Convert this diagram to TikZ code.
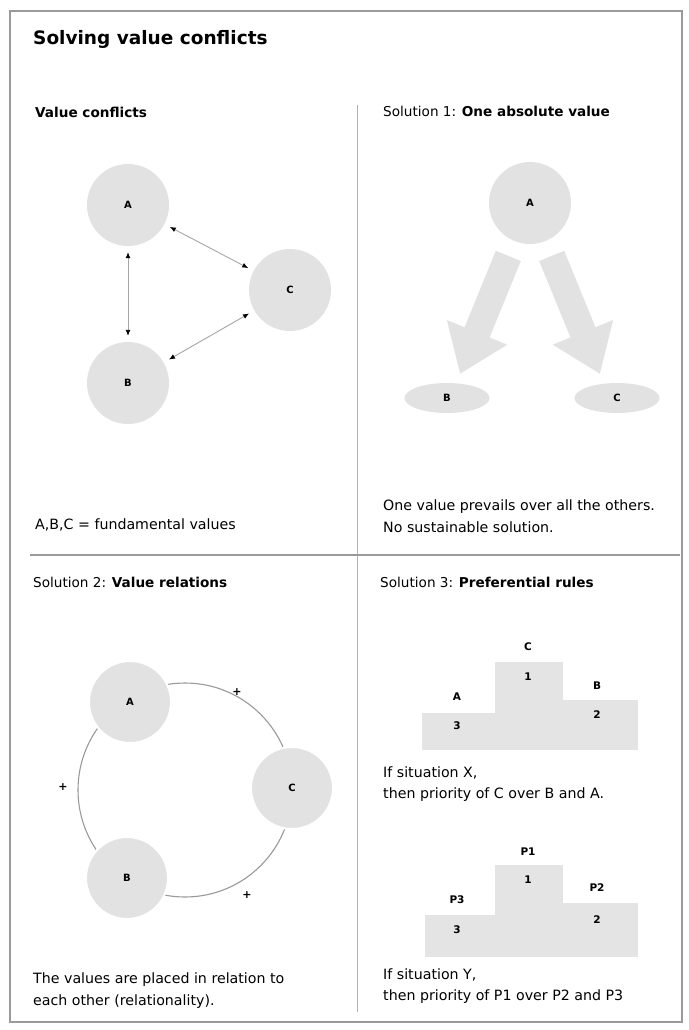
\documentclass[tikz,border=0pt]{standalone}
\usepackage{fontspec}
\setmainfont{DejaVu Sans}
\usetikzlibrary{arrows.meta,shapes.geometric}
\definecolor{disc}{HTML}{E2E2E2}
\definecolor{podium}{HTML}{E4E4E4}
\definecolor{rule}{HTML}{9A9A9A}
\begin{document}
\begin{tikzpicture}[x=1pt,y=-1pt,
  txt/.style={anchor=west,inner sep=0pt,font=\fontsize{14.2}{16}\selectfont},
  head/.style={anchor=west,inner sep=0pt,font=\fontsize{13.6}{16}\selectfont},
  value/.style={circle,fill=disc,minimum size=82pt,inner sep=0pt,font=\bfseries\fontsize{10}{12}\selectfont},
  flatvalue/.style={ellipse,fill=disc,minimum width=85pt,minimum height=30pt,inner sep=0pt,font=\bfseries\fontsize{10}{12}\selectfont},
  link/.style={draw=gray!70,line width=0.9pt,{Latex[length=6pt,width=5pt,black]}-{Latex[length=6pt,width=5pt,black]}},
  fat/.style={draw=disc,line width=27pt,-{Triangle[length=45pt,width=62pt]}},
  plus/.style={font=\bfseries\fontsize{11}{12}\selectfont,inner sep=0pt},
  plab/.style={font=\bfseries\fontsize{10.5}{12}\selectfont,inner sep=0pt},
  block/.style={fill=podium,draw=none}]
\useasboundingbox (0,0) rectangle (688,1030);
\fill[white] (0,0) rectangle (688,1030);

% frame and dividers
\draw[rule,line width=1.6pt] (10,11) rectangle (682,1022);
\draw[gray!60,line width=0.8pt] (357,105) -- (357,1012);
\draw[rule,line width=1.2pt] (30,555) -- (680,555);

% title
\node[anchor=west,inner sep=0pt,font=\bfseries\fontsize{18.5}{20}\selectfont] (title) at (33,39) {Solving value conflicts};

% ---- value conflicts
\node[head] (h1) at (35,112) {\bfseries Value conflicts};
\node[value] (a1) at (128,205) {A};
\node[value] (c1) at (290,290) {C};
\node[value] (b1) at (128,383) {B};
\draw[link,shorten <=6pt,shorten >=6pt] (a1) -- (b1);
\draw[link,shorten <=6pt,shorten >=6pt] (a1) -- (c1);
\draw[link,shorten <=6pt,shorten >=6pt] (b1) -- (c1);
\node[txt] (t1) at (35,525) {A,B,C = fundamental values};

% ---- solution 1
\node[head] (h2) at (383,111) {Solution 1: \bfseries One absolute value};
\node[value] (a2) at (530,203) {A};
\node[flatvalue] (b2) at (447,398) {B};
\node[flatvalue] (c2) at (617,398) {C};
\coordinate (tipb) at (460,374);
\coordinate (tipc) at (600,374);
\draw[fat,shorten <=16pt] (a2) -- (tipb);
\draw[fat,shorten <=16pt] (a2) -- (tipc);
\node[txt] (t2a) at (383,507) {One value prevails over all the others.};
\node[txt] (t2b) at (383,527) {No sustainable solution.};

% ---- solution 2
\node[head] (h3) at (33,582) {Solution 2: \bfseries Value relations};
\node[circle,minimum size=214pt,inner sep=0pt,draw=gray!80,line width=1.1pt] (ring) at (185,790) {};
\node[value,draw=white,line width=2pt] (a3) at (130,702) {A};
\node[value,draw=white,line width=2pt] (c3) at (292,788) {C};
\node[value,draw=white,line width=2pt] (b3) at (127,878) {B};
\node[plus] (p1) at (237,692) {+};
\node[plus] (p2) at (63,787) {+};
\node[plus] (p3) at (247,895) {+};
\node[txt] (t3a) at (33,980) {The values are placed in relation to};
\node[txt] (t3b) at (33,1002) {each other (relationality).};

% ---- solution 3
\node[head] (h4) at (380,582) {Solution 3: \bfseries Preferential rules};
% first podium
\fill[block] (422,750) rectangle (495,713);
\fill[block] (495,750) rectangle (563,662);
\fill[block] (563,750) rectangle (638,700);
\node[plab] (x1) at (528,647) {C};
\node[plab] (x1n) at (528,677) {1};
\node[plab] (x3) at (457,697) {A};
\node[plab] (x3n) at (457,726) {3};
\node[plab] (x2) at (597,686) {B};
\node[plab] (x2n) at (597,715) {2};
\node[txt] (t4a) at (383,773) {If situation X,};
\node[txt] (t4b) at (383,795) {then priority of C over B and A.};
% second podium
\fill[block] (425,957) rectangle (495,915);
\fill[block] (495,957) rectangle (563,865);
\fill[block] (563,957) rectangle (638,903);
\node[plab] (y1) at (528,852) {P1};
\node[plab] (y1n) at (528,880) {1};
\node[plab] (y3) at (457,900) {P3};
\node[plab] (y3n) at (457,930) {3};
\node[plab] (y2) at (597,888) {P2};
\node[plab] (y2n) at (597,920) {2};
\node[txt] (t5a) at (383,975) {If situation Y,};
\node[txt] (t5b) at (383,997) {then priority of P1 over P2 and P3};
\end{tikzpicture}
\end{document}
